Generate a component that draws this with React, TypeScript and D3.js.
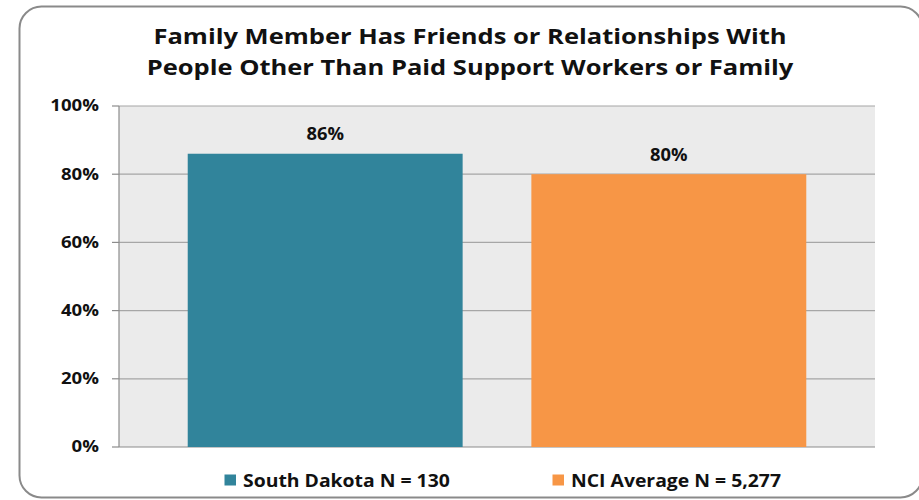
import React from "react";
import * as d3 from "d3";

const categories = ["South Dakota N = 130", "NCI Average N = 5,277"];
const values = [86, 80];
const colors = ["#31849b", "#f79646"];
const yTicks = [0, 20, 40, 60, 80, 100];
const titleLines = [
  "Family Member Has Friends or Relationships With",
  "People Other Than Paid Support Workers or Family",
];

function T(props: { x: number; y: number; sx: number; size: number; anchor?: string; dy?: string; children: React.ReactNode }) {
  return (
    <text
      transform={`translate(${props.x},${props.y}) scale(${props.sx},1)`}
      textAnchor={props.anchor || "start"}
      dy={props.dy}
      fontSize={props.size}
      fontWeight="bold"
      fill="#111"
    >
      {props.children}
    </text>
  );
}

export default function App() {
  const W = 919, H = 500;
  const left = 119, right = 875, top = 106, bottom = 447;
  const x = d3.scaleBand<string>().domain(categories).range([left, right]).paddingInner(0.2).paddingOuter(0.2);
  const y = d3.scaleLinear().domain([0, 100]).range([bottom, top]);
  const font = "'Open Sans', 'Liberation Sans', sans-serif";
  return (
    <svg width={W} height={H} style={{ position: "absolute", left: 0, top: 0 }} fontFamily={font}>
      <rect x={0} y={0} width={W} height={H} fill="#ffffff" />
      <rect x={19.5} y={6.5} width={903} height={491} rx={22} ry={22} fill="#ffffff" stroke="#8a8a8a" strokeWidth={2} />
      {titleLines.map((t, i) => (
        <T key={i} x={470} y={43.5 + i * 31} sx={1.16} size={22} anchor="middle">{t}</T>
      ))}
      <rect x={left} y={top} width={right - left} height={bottom - top} fill="#ebebeb" />
      {yTicks.map((t) => (
        <g key={t}>
          {t > 0 && <line x1={left} x2={right} y1={y(t)} y2={y(t)} stroke="#a6a6a6" strokeWidth={1.2} />}
          <line x1={left - 7} x2={left} y1={y(t)} y2={y(t)} stroke="#8c8c8c" strokeWidth={1.2} />
          <T x={99} y={y(t)} sx={1.2} size={15.5} anchor="end" dy="0.35em">{t}%</T>
        </g>
      ))}
      <line x1={left} x2={left} y1={top} y2={bottom} stroke="#8c8c8c" strokeWidth={1.2} />
      <line x1={left} x2={right} y1={bottom} y2={bottom} stroke="#8c8c8c" strokeWidth={1.2} />
      {categories.map((c, i) => (
        <g key={c}>
          <rect x={x(c)!} y={y(values[i])} width={x.bandwidth()} height={bottom - y(values[i])} fill={colors[i]} />
          <T x={x(c)! + x.bandwidth() / 2} y={y(values[i]) - 13.5} sx={1.08} size={17} anchor="middle">{values[i]}%</T>
        </g>
      ))}
      {categories.map((c, i) => {
        const lx = i === 0 ? 224.5 : 552.5;
        return (
          <g key={"l" + c}>
            <rect x={lx} y={474.5} width={11.5} height={11} fill={colors[i]} />
            <T x={lx + 18.5} y={486.5} sx={1.14} size={17}>{c}</T>
          </g>
        );
      })}
    </svg>
  );
}
